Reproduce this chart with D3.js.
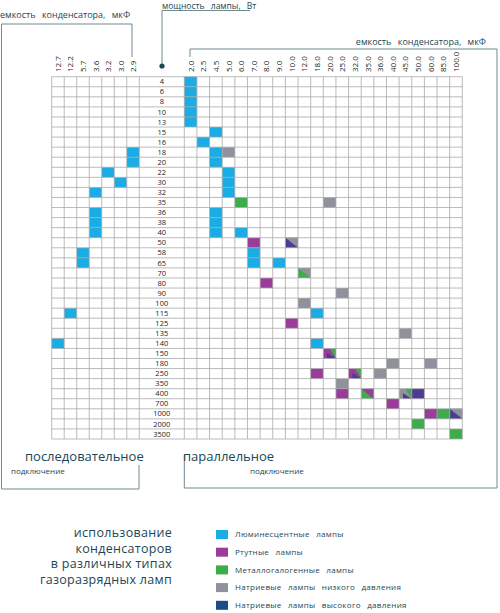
<!DOCTYPE html>
<html>
<head>
<meta charset="utf-8">
<script src="https://cdn.jsdelivr.net/npm/d3@7"></script>
<style>
  body { margin: 0; background: #fff; }
  text { font-family: "Open Sans", "DejaVu Sans", sans-serif; }
</style>
</head>
<body>
<div id="chart"></div>
<script>
// мощности ламп (строки)
const powers = ["4","6","8","10","13","15","16","18","20","22","30","32","35","36","38","40","50","58","65","70",
  "80","90","100","115","125","135","140","150","180","250","350","400","700","1000","2000","3500"];

// емкости, последовательное подключение (слева)
const seriesCaps = ["12.7","12.2","5.7","3.6","3.2","3.0","2.9"];
// емкости, параллельное подключение (справа)
const parallelCaps = ["2.0","2.5","4.5","5.0","6.0","7.0","8.0","9.0","10.0","12.0","18.0","20.0","25.0",
  "32.0","35.0","36.0","40.0","45.0","50.0","60.0","85.0","100.0"];

// типы ламп: L люминесцентные, R ртутные, M металлогалогенные, N натриевые НД, H натриевые ВД
const lampTypes = ["L","R","M","N","H"];
const lampNames = ["Люминесцентные лампы","Ртутные лампы","Металлогалогенные лампы",
  "Натриевые лампы низкого давления","Натриевые лампы высокого давления"];

// [мощность, емкость, типы]
const seriesCells = [
  ["18","2.9","L"],["20","2.9","L"],["22","3.2","L"],["30","3.0","L"],["32","3.6","L"],
  ["36","3.6","L"],["38","3.6","L"],["40","3.6","L"],["58","5.7","L"],["65","5.7","L"],
  ["115","12.2","L"],["140","12.7","L"]
];
const parallelCells = [
  ["4","2.0","L"],["6","2.0","L"],["8","2.0","L"],["10","2.0","L"],["13","2.0","L"],
  ["15","4.5","L"],["16","2.5","L"],["18","4.5","L"],["18","5.0","N"],["20","4.5","L"],
  ["22","5.0","L"],["30","5.0","L"],["32","5.0","L"],["35","6.0","M"],["35","20.0","N"],
  ["36","4.5","L"],["38","4.5","L"],["40","4.5","L"],["40","6.0","L"],
  ["50","7.0","R"],["50","10.0","HN"],["58","7.0","L"],["65","7.0","L"],["65","9.0","L"],
  ["70","12.0","MN"],["80","8.0","R"],["90","25.0","N"],["100","12.0","N"],["115","18.0","L"],
  ["125","10.0","R"],["135","45.0","N"],["140","18.0","L"],["150","20.0","RMH"],
  ["180","40.0","N"],["180","60.0","N"],["250","18.0","R"],["250","32.0","RMH"],["250","36.0","N"],
  ["350","25.0","N"],["400","25.0","R"],["400","35.0","MR"],["400","45.0","NMH"],["400","50.0","H"],
  ["700","40.0","R"],["1000","60.0","R"],["1000","85.0","M"],["1000","100.0","HN"],
  ["2000","50.0","M"],["3500","100.0","M"]
];

const cellColor = d3.scaleOrdinal(lampTypes, ["#1aace4","#9b3c9b","#3dac4b","#8f929c","#4e3a95"]);
const legendColor = d3.scaleOrdinal(lampTypes, ["#1aace4","#9b3c9b","#3dac4b","#8f929c","#1c4b8c"]);

const width = 500, height = 613;
const ink = "#1b4756";
const lineCol = "#6f8a92";

const svg = d3.select("#chart").append("svg")
  .attr("width", width).attr("height", height);

const y = d3.scaleBand().domain(powers).range([76.7, 439]);
const xS = d3.scaleBand().domain(seriesCaps).range([51.7, 139.3]);
const xP = d3.scaleBand().domain(parallelCaps).range([184.3, 462.3]);
const labelX0 = 139.3, labelX1 = 184.3;

// ячейки
function drawCells(cells, x) {
  const g = svg.append("g");
  cells.forEach(([p, c, types]) => {
    const x0 = x(c), y0 = y(p), w = x.bandwidth(), h = y.bandwidth();
    const t = types.split("");
    g.append("rect").attr("x", x0).attr("y", y0).attr("width", w).attr("height", h)
      .attr("fill", cellColor(t[0]));
    if (t.length === 2) {
      // нижний левый — первый тип, верхний правый — второй
      g.append("path").attr("d", `M${x0},${y0}L${x0 + w},${y0}L${x0 + w},${y0 + h}Z`)
        .attr("fill", cellColor(t[1]));
    }
    if (t.length === 3) {
      g.append("path").attr("d", `M${x0 + w * 0.5},${y0}L${x0 + w},${y0}L${x0 + w},${y0 + h}Z`)
        .attr("fill", cellColor(t[1]));
      g.append("path").attr("d", `M${x0 + w * 0.3},${y0 + h * 0.45}L${x0 + w},${y0 + h}L${x0 + w * 0.3},${y0 + h}Z`)
        .attr("fill", cellColor(t[2]));
    }
  });
}
drawCells(seriesCells, xS);
drawCells(parallelCells, xP);

// сетка
const grid = svg.append("g").attr("stroke", "#a9a9a9").attr("stroke-width", 0.8).attr("fill", "none");
const gridTop = y.range()[0], gridBottom = y.range()[1];
const vx = seriesCaps.map(d => xS(d)).concat([labelX0],
  parallelCaps.map(d => xP(d)), [xP.range()[1]]);
vx.forEach(v => grid.append("line").attr("x1", v).attr("x2", v).attr("y1", gridTop).attr("y2", gridBottom));
powers.map(d => y(d)).concat([gridBottom]).forEach(v =>
  grid.append("line").attr("x1", xS.range()[0]).attr("x2", xP.range()[1]).attr("y1", v).attr("y2", v));

// подписи строк
svg.append("g").selectAll("text").data(powers).join("text")
  .attr("x", (labelX0 + labelX1) / 2)
  .attr("y", d => y(d) + y.bandwidth() / 2)
  .attr("dy", "0.35em")
  .attr("text-anchor", "middle")
  .attr("font-size", 7.5)
  .attr("fill", "#222")
  .text(d => d);

// подписи столбцов
function colLabels(caps, x) {
  svg.append("g").selectAll("text").data(caps).join("text")
    .attr("transform", d => `translate(${x(d) + x.bandwidth() / 2 + 3},72) rotate(-90)`)
    .attr("font-size", 8)
    .attr("fill", "#222")
    .text(d => d);
}
colLabels(seriesCaps, xS);
colLabels(parallelCaps, xP);

// скобки и заголовки осей
const lines = svg.append("g").attr("stroke", lineCol).attr("stroke-width", 1).attr("fill", "none");
lines.append("path").attr("d", "M132,57V24H1.5V489H139V465");
lines.append("path").attr("d", "M190,57V49H497V488H184.3V455");
lines.append("path").attr("d", "M162,66V10.5H250");
svg.append("circle").attr("cx", 162).attr("cy", 66).attr("r", 2.6).attr("fill", ink);

svg.append("text").attr("x", 0).attr("y", 18).attr("font-size", 9).attr("fill", ink)
  .attr("word-spacing", 4)
  .text("емкость конденсатора, мкФ");
svg.append("text").attr("x", 162).attr("y", 8.5).attr("font-size", 8.5).attr("fill", ink)
  .attr("word-spacing", 4)
  .text("мощность лампы, Вт");
svg.append("text").attr("x", 486).attr("y", 45).attr("text-anchor", "end").attr("font-size", 9).attr("fill", ink)
  .attr("word-spacing", 4)
  .text("емкость конденсатора, мкФ");

svg.append("text").attr("x", 25).attr("y", 461).attr("font-size", 13).attr("fill", ink).text("последовательное");
svg.append("text").attr("x", 11).attr("y", 474).attr("font-size", 8).attr("fill", ink).text("подключение");
svg.append("text").attr("x", 183).attr("y", 461).attr("font-size", 13).attr("fill", ink).text("параллельное");
svg.append("text").attr("x", 250).attr("y", 474).attr("font-size", 8).attr("fill", ink).text("подключение");

// заголовок
const titleLines = ["использование", "конденсаторов", "в различных типах", "газоразрядных ламп"];
svg.append("g").selectAll("text").data(titleLines).join("text")
  .attr("x", 172).attr("y", (d, i) => 537 + i * 15.5)
  .attr("text-anchor", "end").attr("font-size", 12.5).attr("fill", ink)
  .attr("letter-spacing", 0.3)
  .text(d => d);

// легенда
const leg = svg.append("g").selectAll("g").data(lampTypes).join("g")
  .attr("transform", (d, i) => `translate(216,${530 + i * 17.7})`);
leg.append("rect").attr("width", 12).attr("height", 9).attr("fill", d => legendColor(d));
leg.append("text").attr("x", 19).attr("y", 4.5).attr("dy", "0.35em")
  .attr("font-size", 8).attr("fill", ink)
  .attr("letter-spacing", 0.3).attr("word-spacing", 4)
  .text((d, i) => lampNames[i]);
</script>
</body>
</html>
